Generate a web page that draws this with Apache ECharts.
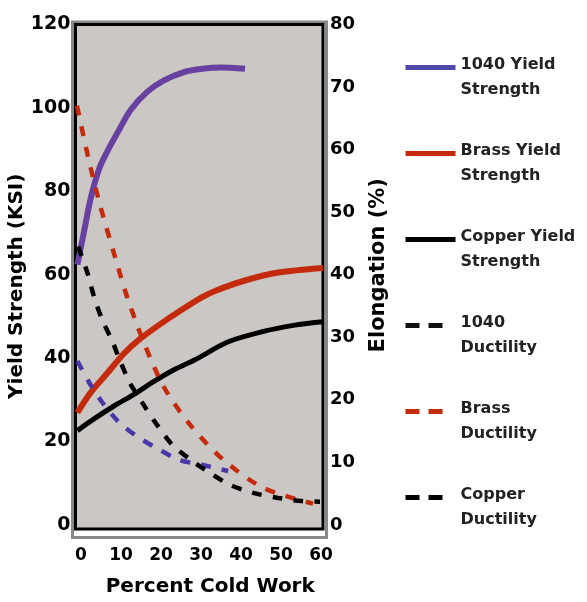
<!DOCTYPE html>
<html>
<head>
<meta charset="utf-8">
<script src="https://cdn.jsdelivr.net/npm/echarts@6/dist/echarts.min.js"></script>
<style>
  html, body { margin: 0; padding: 0; background: #fff; }
  #chart-container { width: 587px; height: 602px; }
</style>
</head>
<body>
<div id="chart-container"></div>
<script>
// x = percent cold work, yield strength in KSI (left axis), elongation in % (right axis)
var yield1040X = [-0.9, 0.75, 2.4, 4.5, 6.6, 9.1, 12.4, 16.6, 20.75, 25.75, 30.3, 35, 41];
var yield1040 = [62.4, 70.3, 78.2, 85.3, 89.6, 94.0, 99.5, 103.9, 106.6, 108.6, 109.4, 109.7, 109.4];

var yieldBrassX = [-0.9, 2.4, 6.6, 10.75, 14.9, 19.9, 24.9, 30.3, 33.5, 41, 49.3, 60.5];
var yieldBrass = [26.9, 31.7, 36.4, 41.1, 44.7, 48.2, 51.4, 54.6, 56.1, 58.6, 60.5, 61.6];

var yieldCopperX = [-0.9, 3.25, 8.25, 13.25, 18.25, 23.25, 28.5, 36.8, 45.2, 53.5, 60.5];
var yieldCopper = [22.6, 25.4, 28.5, 31.3, 34.4, 37.2, 39.6, 43.9, 46.3, 47.9, 48.7];

var duct1040X = [-0.9, 2, 5.3, 9.5, 14.1, 19.1, 24.5, 30.2, 36.8];
var duct1040 = [26.2, 22.8, 19.6, 16.4, 14.1, 12.2, 10.4, 9.6, 8.6];

var ductBrassX = [-1, 2, 4.9, 8.25, 11.6, 15.75, 20.75, 27.4, 35.6, 45.6, 58];
var ductBrass = [67, 58.2, 50.8, 43.4, 36.3, 29.1, 22.0, 15.9, 10.4, 5.9, 3.4];

var ductCopperX = [-0.7, 1.6, 3.25, 5.3, 7.8, 9.9, 12.4, 15.75, 19.1, 22.8, 27.4, 32.25, 37.25, 43.1, 49.3, 55.2, 59.75];
var ductCopper = [44.5, 40.3, 36.5, 32.8, 29.4, 26.0, 22.5, 19.1, 15.9, 12.8, 10.4, 8.3, 6.4, 5.1, 4.3, 3.8, 3.7];

var xTicks = [0, 10, 20, 30, 40, 50, 60];
var leftTicks = [0, 20, 40, 60, 80, 100, 120];
var rightTicks = [0, 10, 20, 30, 40, 50, 60, 70, 80];

var names = ['1040 Yield Strength', 'Brass Yield Strength', 'Copper Yield Strength',
  '1040 Ductility', 'Brass Ductility', 'Copper Ductility'];
var legendText = {
  '1040 Yield Strength': ['1040 Yield', 'Strength'],
  'Brass Yield Strength': ['Brass Yield', 'Strength'],
  'Copper Yield Strength': ['Copper Yield', 'Strength'],
  '1040 Ductility': ['1040', 'Ductility'],
  'Brass Ductility': ['Brass', 'Ductility'],
  'Copper Ductility': ['Copper', 'Ductility']
};

function pairs(xs, ys) {
  return xs.map(function (x, i) { return [x, ys[i]]; });
}

var font = 'DejaVu Sans';

var dom = document.getElementById('chart-container');
var myChart = echarts.init(dom, null, { renderer: 'canvas' });

function solid(name, xs, ys, color, width) {
  return {
    name: name, type: 'line', yAxisIndex: 0, smooth: 0.3, symbol: 'none',
    data: pairs(xs, ys),
    lineStyle: { color: color, width: width },
    itemStyle: { color: color }
  };
}
function dashed(name, xs, ys, color) {
  return {
    name: name, type: 'line', yAxisIndex: 1, smooth: 0.3, symbol: 'none',
    data: pairs(xs, ys),
    lineStyle: { color: color, width: 4.5, type: [10, 11] },
    itemStyle: { color: color }
  };
}

var legendDash = [14, 9, 14, 20];

var option = {
  animation: false,
  backgroundColor: '#fff',
  grid: {
    left: 75.5, right: 264, top: 24.5, bottom: 67.5,
    show: true, backgroundColor: '#cbc7c4', borderColor: '#000', borderWidth: 3
  },
  graphic: [{
    type: 'rect', silent: true, z: -1,
    shape: { x: 72.5, y: 22, width: 254, height: 515.5 },
    style: { fill: 'none', stroke: '#888', lineWidth: 3 }
  }],
  legend: {
    orient: 'vertical', left: 403, top: 41.5, padding: 0,
    itemWidth: 50, itemHeight: 14, itemGap: 30,
    itemStyle: { opacity: 0 },
    lineStyle: { width: 5 },
    formatter: function (n) {
      var t = legendText[n];
      return '{g| }\n{t|' + t[0] + '}\n{t|' + t[1] + '}';
    },
    textStyle: {
      fontFamily: font, fontWeight: 'bold', fontSize: 16, color: '#222',
      rich: {
        g: { fontSize: 2, lineHeight: 19 },
        t: { fontFamily: font, fontWeight: 'bold', fontSize: 16, color: '#222', lineHeight: 25 }
      }
    },
    data: [
      { name: names[0], lineStyle: { width: 5, color: '#5048a8' } },
      { name: names[1], lineStyle: { width: 5 } },
      { name: names[2], lineStyle: { width: 5 } },
      { name: names[3], lineStyle: { width: 5, color: '#111', type: legendDash } },
      { name: names[4], lineStyle: { width: 5, type: legendDash } },
      { name: names[5], lineStyle: { width: 5, type: legendDash } }
    ]
  },
  xAxis: {
    type: 'value', min: -1.375, max: 60.5,
    name: 'Percent Cold Work', nameLocation: 'middle', nameGap: 48,
    nameTextStyle: { fontFamily: font, fontWeight: 'bold', fontSize: 20, color: '#000', padding: [0, 0, 0, 22] },
    axisLine: { show: false }, axisTick: { show: false }, splitLine: { show: false },
    axisLabel: { customValues: xTicks, margin: 18, fontFamily: font, fontWeight: 'bold', fontSize: 17, color: '#000' }
  },
  yAxis: [{
    type: 'value', min: -1, max: 120, position: 'left',
    name: 'Yield Strength (KSI)', nameLocation: 'middle', nameGap: 33, nameRotate: 90,
    nameTextStyle: { fontFamily: font, fontWeight: 'bold', fontSize: 20, color: '#000', padding: [0, 19, 0, 0] },
    axisLine: { show: false }, axisTick: { show: false }, splitLine: { show: false },
    axisLabel: { customValues: leftTicks, margin: 5, fontFamily: font, fontWeight: 'bold', fontSize: 19, color: '#000' }
  }, {
    type: 'value', min: -0.667, max: 80, position: 'right',
    name: 'Elongation (%)', nameLocation: 'middle', nameGap: 45, nameRotate: 90,
    nameTextStyle: { fontFamily: font, fontWeight: 'bold', fontSize: 21, color: '#000', padding: [0, 0, 0, 23] },
    axisLine: { show: false }, axisTick: { show: false }, splitLine: { show: false },
    axisLabel: { customValues: rightTicks, margin: 7, fontFamily: font, fontWeight: 'bold', fontSize: 18, color: '#000' }
  }],
  series: [
    solid(names[0], yield1040X, yield1040, '#6840a0', 6),
    solid(names[1], yieldBrassX, yieldBrass, '#c42a0c', 6),
    solid(names[2], yieldCopperX, yieldCopper, '#000', 5),
    dashed(names[3], duct1040X, duct1040, '#4838a8'),
    dashed(names[4], ductBrassX, ductBrass, '#c42a0c'),
    dashed(names[5], ductCopperX, ductCopper, '#000')
  ]
};

if (option && typeof option === 'object') {
  myChart.setOption(option);
}

window.addEventListener('resize', myChart.resize);
</script>
</body>
</html>
